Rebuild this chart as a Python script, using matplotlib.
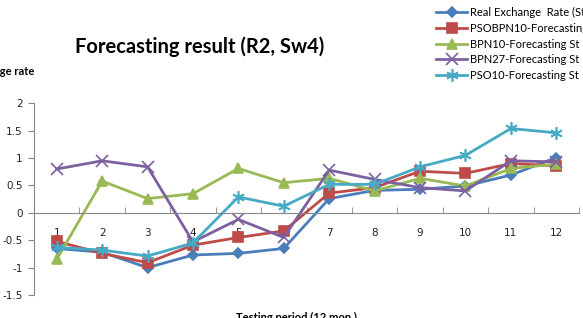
import matplotlib.pyplot as plt
from matplotlib.ticker import FixedLocator

periods = list(range(1, 13))

real_st = [-0.65, -0.72, -1.00, -0.77, -0.74, -0.65, 0.26, 0.41, 0.43, 0.49, 0.69, 1.01]
psobpn10 = [-0.52, -0.74, -0.91, -0.59, -0.45, -0.33, 0.36, 0.46, 0.76, 0.72, 0.90, 0.86]
bpn10 = [-0.85, 0.58, 0.26, 0.35, 0.81, 0.55, 0.63, 0.40, 0.63, 0.49, 0.81, 0.89]
bpn27 = [0.80, 0.95, 0.84, -0.53, -0.12, -0.45, 0.78, 0.61, 0.46, 0.40, 0.95, 0.93]
pso10 = [-0.63, -0.68, -0.79, -0.55, 0.29, 0.12, 0.52, 0.52, 0.84, 1.05, 1.54, 1.46]

series = [
    ("Real Exchange  Rate (St)", real_st, "#4A7EBB", "D", 5),
    ("PSOBPN10-Forecasting St", psobpn10, "#BE4B48", "s", 6.5),
    ("BPN10-Forecasting St", bpn10, "#98B954", "^", 6.5),
    ("BPN27-Forecasting St", bpn27, "#7D60A0", "x", 8),
    ("PSO10-Forecasting St", pso10, "#46AAC5", (6, 2, 0), 9),
]

fig = plt.figure(figsize=(5.83, 3.18), dpi=100)
ax = fig.add_axes([34 / 583, 1 - 295 / 318, 545 / 583, (295 - 103.3) / 318])

for name, vals, color, marker, ms in series:
    ax.plot(periods, vals, color=color, linewidth=2, marker=marker,
            markersize=ms, markeredgewidth=1.2, label=name)

ax.set_xlim(0.5, 12.5)
ax.set_ylim(-1.5, 2)
ax.set_yticks([-1.5, -1, -0.5, 0, 0.5, 1, 1.5, 2])
ax.set_yticklabels(["-1.5", "-1", "-0.5", "0", "0.5", "1", "1.5", "2"])

for s in ["top", "right"]:
    ax.spines[s].set_visible(False)
ax.spines["left"].set_color("#868686")
ax.spines["bottom"].set_color("#868686")
ax.spines["bottom"].set_position(("data", 0))

ax.set_xticks(periods)
ax.xaxis.set_minor_locator(FixedLocator([k + 0.5 for k in range(0, 13)]))
ax.tick_params(axis="x", which="major", length=0, pad=11, labelsize=7.5,
               labelcolor="#222222")
ax.tick_params(axis="x", which="minor", direction="in", length=4,
               color="#868686")
ax.tick_params(axis="y", direction="out", length=4, color="#868686",
               labelsize=7.5, labelcolor="#222222", pad=4)

fig.text(200 / 583, 1 - 47 / 318, "Forecasting result (R2, Sw4)",
         fontsize=14.5, fontweight="bold", family="Lato",
         ha="center", va="center")
fig.text(34 / 583, 1 - 72 / 318, "Exchange rate", fontsize=8,
         fontweight="bold", family="Lato", ha="right", va="center")
fig.text(296 / 583, 1 - 312 / 318, "Testing period (12 mon.)", fontsize=8,
         fontweight="bold", family="Lato", ha="center", va="top")

fig.legend(loc="upper left", bbox_to_anchor=(434 / 583, 1 - 5 / 318),
           frameon=False, prop={"family": "Lato", "size": 8},
           handlelength=2.8, handletextpad=0.2, labelspacing=0.42,
           borderaxespad=0, borderpad=0.2)

fig.savefig("out.png", dpi=100)
